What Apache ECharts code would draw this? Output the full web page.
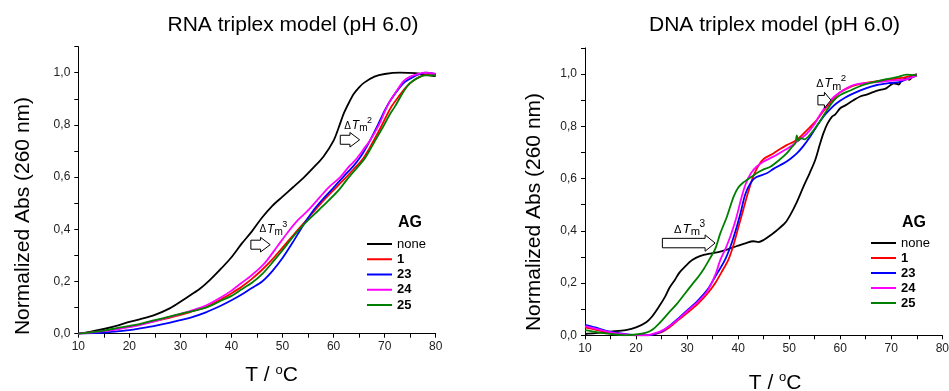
<!DOCTYPE html>
<html><head><meta charset="utf-8">
<script src="https://cdn.jsdelivr.net/npm/echarts@6/dist/echarts.min.js"></script>
<style>html,body{margin:0;padding:0;background:#fff}#c{width:949px;height:391px}</style>
</head><body><div id="c"></div>
<script>
const FONT = '"Liberation Sans", Arial, sans-serif';
const seriesNames = ['none', '1', '23', '24', '25'];
const seriesColors = ['#000000', '#ff0000', '#0000ff', '#ff00ff', '#008000'];
const panelTitles = ['RNA triplex model (pH 6.0)', 'DNA triplex model (pH 6.0)'];
const yAxisTitle = 'Normalized Abs (260 nm)';
const legendTitle = 'AG';
const xMin = 10, xMax = 80, xStep = 5;
const yMin = 0, yMax = 1.1, yStep = 0.1;

// RNA triplex panel: [T, normalized Abs]
const rnaNone = [[10,0],[12,0.006],[15,0.018],[18,0.033],[20,0.045],[22,0.055],[25,0.072],[28,0.098],[30,0.122],[32,0.148],[34,0.175],[36,0.21],[38,0.25],[40,0.293],[42,0.345],[44,0.392],[46,0.445],[48,0.49],[50,0.525],[52,0.56],[54,0.595],[56,0.635],[58,0.678],[60,0.74],[61,0.79],[62,0.844],[63,0.885],[64,0.92],[65,0.944],[66,0.962],[68,0.985],[70,0.995],[73,1.0],[76,0.998],[78,0.992],[80,0.987]];
const rnaAg1 = [[10,0],[12,0.004],[15,0.01],[18,0.02],[20,0.027],[22,0.035],[25,0.048],[28,0.062],[30,0.072],[32,0.084],[35,0.102],[38,0.132],[40,0.155],[42,0.18],[44,0.21],[46,0.245],[48,0.285],[50,0.33],[52,0.375],[54,0.42],[56.4,0.474],[58,0.51],[60,0.55],[62,0.59],[64,0.632],[65.6,0.666],[67,0.71],[68,0.745],[69.3,0.793],[70.5,0.84],[71.5,0.875],[73,0.915],[74,0.94],[75,0.96],[76,0.975],[77.3,0.988],[78.5,0.995],[79,0.997],[80,0.99]];
const rnaAg23 = [[10,0],[12,0.001],[15,0.004],[18,0.01],[20,0.014],[22,0.02],[25,0.03],[28,0.042],[30,0.052],[32,0.062],[35,0.082],[38,0.108],[40,0.128],[42,0.15],[44,0.175],[46,0.2],[48,0.24],[50,0.29],[52,0.35],[54,0.414],[56.1,0.474],[58,0.518],[60,0.56],[62,0.603],[64,0.645],[65,0.67],[66,0.7],[67,0.735],[68.5,0.793],[70,0.855],[71,0.89],[72.1,0.921],[73,0.945],[74,0.965],[75.7,0.985],[77,0.995],[78,1.0],[80,0.995]];
const rnaAg24 = [[10,0],[12,0.003],[15,0.01],[18,0.018],[20,0.025],[22,0.033],[25,0.048],[28,0.065],[30,0.076],[32,0.088],[35,0.108],[38,0.14],[40,0.165],[42,0.195],[44,0.225],[46,0.26],[47,0.282],[49,0.335],[51,0.388],[53,0.435],[55.1,0.474],[57.4,0.525],[59,0.56],[61.3,0.6],[63,0.64],[64.3,0.666],[66,0.71],[67.2,0.742],[69,0.805],[70,0.85],[71,0.89],[72.5,0.935],[73.7,0.968],[75,0.985],[76.4,0.995],[78,1.0],[80,0.995]];
const rnaAg25 = [[10,0],[12,0.004],[15,0.012],[18,0.023],[20,0.03],[22,0.037],[25,0.052],[28,0.066],[30,0.076],[32,0.085],[35,0.1],[38,0.127],[40,0.145],[42,0.17],[44,0.195],[46,0.228],[48.4,0.282],[50,0.32],[52,0.37],[54,0.415],[57.1,0.474],[59,0.51],[61,0.55],[63,0.6],[65.9,0.666],[67,0.7],[68,0.735],[69.7,0.793],[71,0.84],[72,0.87],[73.5,0.921],[74.5,0.95],[75.5,0.968],[77,0.985],[78,0.99],[80,0.99]];

// DNA triplex panel: [T, normalized Abs]
const dnaNone = [[10,0.005],[12,0.008],[15,0.014],[18,0.02],[20,0.03],[22,0.05],[23.1,0.071],[24.5,0.11],[25.7,0.148],[26.5,0.18],[27.6,0.212],[28.5,0.24],[29.6,0.263],[31,0.288],[32.5,0.303],[34.8,0.314],[36.5,0.32],[38.1,0.33],[40,0.343],[41.4,0.352],[43,0.36],[44,0.357],[45,0.365],[46.5,0.385],[47.5,0.4],[49.2,0.43],[50.2,0.46],[51.5,0.51],[52.8,0.569],[54,0.62],[55.1,0.671],[56,0.73],[56.7,0.773],[57.5,0.81],[58.4,0.837],[59,0.845],[60,0.869],[61,0.88],[62.6,0.9],[64,0.915],[65,0.92],[66.6,0.932],[68,0.94],[69,0.945],[70.5,0.964],[71.5,0.96],[72,0.975],[73.1,0.983],[73.5,0.978],[74.4,0.995],[75,1.0]];
const dnaAg1 = [[10,0.03],[12,0.022],[14,0.013],[16,0.006],[18,0.002],[20,0],[22,0],[23,0.002],[25,0.012],[26.5,0.03],[28.3,0.059],[30,0.085],[32.2,0.122],[34,0.16],[35.5,0.199],[37,0.25],[38.1,0.29],[39,0.34],[40,0.41],[41,0.48],[42,0.55],[43,0.61],[44,0.65],[45,0.675],[46.9,0.696],[48,0.71],[49.5,0.728],[51,0.742],[52.2,0.76],[54,0.795],[55.4,0.824],[57,0.865],[58.8,0.907],[60,0.93],[62,0.951],[64,0.962],[66,0.969],[68,0.975],[70.5,0.98],[72,0.985],[74.4,0.995],[75,0.998]];
const dnaAg23 = [[10,0.04],[12,0.03],[14,0.018],[16,0.01],[18,0.004],[20,0],[22,0],[23,0.002],[25,0.015],[26.5,0.035],[28.3,0.065],[30,0.095],[32.2,0.135],[34,0.175],[35.5,0.224],[37.4,0.288],[38.5,0.34],[39.5,0.4],[40.5,0.47],[41.4,0.54],[42.5,0.585],[43.5,0.605],[45.6,0.62],[47,0.638],[48.9,0.658],[50.2,0.675],[51.5,0.696],[52.8,0.725],[54.1,0.76],[55.4,0.8],[56.7,0.837],[58,0.865],[59.3,0.888],[61,0.91],[62.6,0.926],[65,0.945],[67.2,0.958],[69.5,0.965],[71.8,0.97],[73,0.98],[74.4,0.99],[75,0.995]];
const dnaAg24 = [[10,0.035],[12,0.026],[14,0.016],[16,0.008],[18,0.003],[20,0],[22,0],[23,0.004],[25,0.017],[26.5,0.035],[28.3,0.062],[30,0.092],[32.2,0.13],[34,0.17],[35.5,0.23],[36.5,0.288],[37.5,0.33],[38.5,0.38],[39.5,0.44],[40.7,0.53],[41.5,0.58],[42.5,0.62],[43.6,0.645],[45,0.665],[46.9,0.684],[48.5,0.702],[50.2,0.722],[52,0.748],[53.5,0.773],[55,0.81],[56.2,0.849],[57.5,0.885],[58.8,0.913],[60.5,0.937],[62.6,0.958],[65,0.965],[67.8,0.97],[70,0.975],[73.1,0.98],[74.4,0.99],[75,0.995]];
const dnaAg25 = [[10,0.02],[12,0.013],[14,0.007],[16,0.003],[18,0],[20,0.003],[22,0.01],[23.1,0.02],[24.5,0.045],[26.3,0.084],[28,0.12],[29.6,0.16],[31,0.195],[32.2,0.224],[33.3,0.255],[34.5,0.295],[35.5,0.33],[36.5,0.39],[37.8,0.454],[39.1,0.53],[40,0.565],[41,0.585],[41.7,0.594],[43.6,0.62],[45,0.635],[46.3,0.645],[48,0.67],[49.5,0.696],[50.5,0.72],[51.2,0.735],[51.5,0.765],[51.8,0.745],[52.3,0.755],[53,0.75],[54.3,0.773],[55,0.79],[56.2,0.824],[57.5,0.865],[58.8,0.9],[60,0.92],[62,0.937],[64,0.955],[66.6,0.969],[69,0.98],[71.1,0.988],[73,0.998],[75,0.995]];

const rnaSeries = [rnaNone, rnaAg1, rnaAg23, rnaAg24, rnaAg25];
const dnaSeries = [dnaNone, dnaAg1, dnaAg23, dnaAg24, dnaAg25];

// Annotations in data coordinates: [panel, label left x, label y, superscript, arrow tail x, arrow tip x, arrow y, scale]
const annotations = [
  [0, 62.1, 0.796, '2', 61.31, 65.1, 0.743, 1.0],
  [0, 45.5, 0.399, '3', 43.8, 47.59, 0.341, 1.0],
  [1, 55.29, 0.9625, '2', 55.63, 58.18, 0.90, 1.08],
  [1, 27.45, 0.405, '3', 25.16, 35.49, 0.353, 1.12]
];

const chart = echarts.init(document.getElementById('c'), null, {renderer: 'canvas'});

const grids = [
  {left: 78.3, top: 46.6, width: 357.4, height: 287.1, containLabel: false, outerBoundsMode: 'none'},
  {left: 585, top: 47.9, width: 357.3, height: 287.4, containLabel: false, outerBoundsMode: 'none'}
];

function xAxisFor(i, gap, shift) {
  return {
    type: 'value', gridIndex: i, min: xMin, max: xMax, interval: xStep,
    name: '{n|T / }{s|o}{n|C}', nameLocation: 'middle', nameGap: gap,
    nameTextStyle: {padding: [0, 0, 0, shift], rich: {
      n: {fontSize: 21, fontFamily: FONT, color: '#000', lineHeight: 24},
      s: {fontSize: 13, fontFamily: FONT, color: '#000', lineHeight: 13, verticalAlign: 'top'}
    }},
    axisLine: {show: true, onZero: false, lineStyle: {color: '#000', width: 1}},
    axisTick: {show: true, inside: false, length: 4, lineStyle: {color: '#000'}},
    axisLabel: {margin: 7, fontSize: 12, fontFamily: FONT, color: '#222',
      formatter: v => (Math.round(v) % 10 === 0 ? String(Math.round(v)) : '')},
    splitLine: {show: false}
  };
}
function yAxisFor(i) {
  return {
    type: 'value', gridIndex: i, min: yMin, max: yMax, interval: yStep,
    axisLine: {show: true, onZero: false, lineStyle: {color: '#000', width: 1}},
    axisTick: {show: true, inside: false, length: 4, lineStyle: {color: '#000'}},
    axisLabel: {margin: 8, fontSize: 12, fontFamily: FONT, color: '#222',
      formatter: v => { const k = Math.round(v * 10); return (k % 2 === 0 && k <= 10) ? (k / 10).toFixed(1).replace('.', ',') : ''; }},
    splitLine: {show: false}
  };
}

const series = [];
[rnaSeries, dnaSeries].forEach((set, gi) => {
  set.forEach((data, si) => {
    series.push({
      type: 'line', name: seriesNames[si], xAxisIndex: gi, yAxisIndex: gi,
      data: data, showSymbol: false, symbol: 'none', smooth: 0.3,
      lineStyle: {color: seriesColors[si], width: 1.8},
      itemStyle: {color: seriesColors[si]},
      emphasis: {disabled: true}, animation: false, z: 2 + si
    });
  });
});

function legendFor(left, top, gap) {
  return {
    orient: 'vertical', left: left, top: top, itemWidth: 25, itemHeight: 10, itemGap: gap,
    data: seriesNames, selectedMode: false, icon: 'path://M0,4 L25,4 L25,6 L0,6 Z',
    formatter: n => (n === 'none' ? '{r|' + n + '}' : '{b|' + n + '}'),
    textStyle: {rich: {
      r: {fontSize: 13, fontFamily: FONT, color: '#000'},
      b: {fontSize: 13, fontFamily: FONT, color: '#000', fontWeight: 'bold'}
    }}
  };
}

const baseGraphics = [
  {type: 'text', x: 293, y: 25, style: {text: panelTitles[0], font: '21px ' + FONT, fill: '#000', align: 'center', verticalAlign: 'middle'}},
  {type: 'text', x: 774.5, y: 25, style: {text: panelTitles[1], font: '21px ' + FONT, fill: '#000', align: 'center', verticalAlign: 'middle'}},
  {type: 'text', x: 23, y: 216, rotation: Math.PI / 2, style: {text: yAxisTitle, font: '21px ' + FONT, fill: '#000', align: 'center', verticalAlign: 'middle'}},
  {type: 'text', x: 534, y: 212, rotation: Math.PI / 2, style: {text: yAxisTitle, font: '21px ' + FONT, fill: '#000', align: 'center', verticalAlign: 'middle'}},
  {type: 'text', x: 398, y: 223, style: {text: legendTitle, font: 'bold 16px ' + FONT, fill: '#000', align: 'left', verticalAlign: 'middle'}},
  {type: 'text', x: 902, y: 223, style: {text: legendTitle, font: 'bold 16px ' + FONT, fill: '#000', align: 'left', verticalAlign: 'middle'}}
];

chart.setOption({
  animation: false,
  backgroundColor: '#fff',
  grid: grids,
  xAxis: [xAxisFor(0, 30, 29), xAxisFor(1, 36, 23)],
  yAxis: [yAxisFor(0), yAxisFor(1)],
  legend: [legendFor(362, 232.5, 2.25), legendFor(866, 231.5, 2)],
  series: series,
  graphic: baseGraphics
});

const annGraphics = [];
annotations.forEach(a => {
  const [gi, lx, ly, sup, tx, hx, ay, sc] = a;
  const p = chart.convertToPixel({gridIndex: gi}, [lx, ly]);
  const t = chart.convertToPixel({gridIndex: gi}, [tx, ay]);
  const h = chart.convertToPixel({gridIndex: gi}, [hx, ay]);
  const mk = (txt, dx, dy, size, style) => ({type: 'text', x: p[0] + dx * sc, y: p[1] + dy * sc,
    style: {text: txt, font: (style || '') + ' ' + (size * sc) + 'px ' + FONT, fill: '#000', align: 'left', verticalAlign: 'middle'}});
  annGraphics.push(mk('\u0394', 0, 0, 10));
  annGraphics.push(mk('T', 7.5, 0, 12, 'italic'));
  annGraphics.push(mk('m', 15, 2.5, 10));
  annGraphics.push(mk(sup, 22.7, -5, 9));
  const len = h[0] - t[0];
  const hl = Math.min(10, len * 0.5), sh = 4.5 * Math.min(sc, 1.05), hh = 7.3 * sc;
  const y0 = t[1], x0 = t[0], x1 = h[0];
  annGraphics.push({type: 'polygon', shape: {points: [
    [x0, y0 - sh], [x1 - hl, y0 - sh], [x1 - hl, y0 - hh], [x1, y0], [x1 - hl, y0 + hh], [x1 - hl, y0 + sh], [x0, y0 + sh]
  ]}, style: {fill: '#fff', stroke: '#000', lineWidth: 1}, z: 10});
});

chart.setOption({graphic: baseGraphics.concat(annGraphics)});
</script></body></html>
